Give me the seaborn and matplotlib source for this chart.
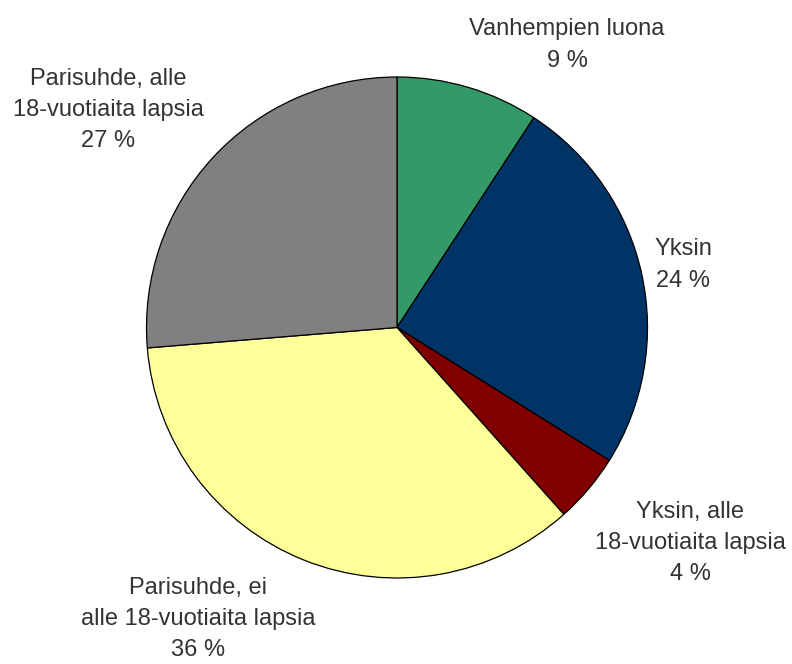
import matplotlib
matplotlib.use("Agg")
import matplotlib.pyplot as plt
import seaborn as sns

categories = ["Vanhempien luona", "Yksin", "Yksin, alle\n18-vuotiaita lapsia",
              "Parisuhde, ei\nalle 18-vuotiaita lapsia", "Parisuhde, alle\n18-vuotiaita lapsia"]
shares = [9.2, 24.7, 4.5, 35.3, 26.3]
pct_labels = ["9 %", "24 %", "4 %", "36 %", "27 %"]
colors = ["#339966", "#003366", "#800000", "#FFFF99", "#808080"]

sns.set_theme(style="white")
plt.rcParams['font.family'] = ['Liberation Sans', 'DejaVu Sans']

W, H = 792, 664
cx, cy, R = 397, 327.5, 250.5
fig = plt.figure(figsize=(W / 100, H / 100), dpi=100)
ax = fig.add_axes([0, 0, 1, 1])
ax.pie(shares, colors=colors, startangle=90, counterclock=False, radius=1,
       wedgeprops=dict(edgecolor="black", linewidth=0.9))
ax.set_aspect("auto")
ax.set_xlim(-cx / R, (W - cx) / R)
ax.set_ylim(-(H - cy) / R, cy / R)
ax.axis("off")

# label block centres in pixels (layout)
label_pos = [(567, 45), (683, 265), (690, 543), (198, 619), (108, 110)]
for cat, pct, (px, py) in zip(categories, pct_labels, label_pos):
    ax.text((px - cx) / R, (cy - py) / R, cat + "\n" + pct, ha="center", va="center",
            fontsize=17, color="#333333", linespacing=1.55)

fig.savefig("out.png", dpi=100)
